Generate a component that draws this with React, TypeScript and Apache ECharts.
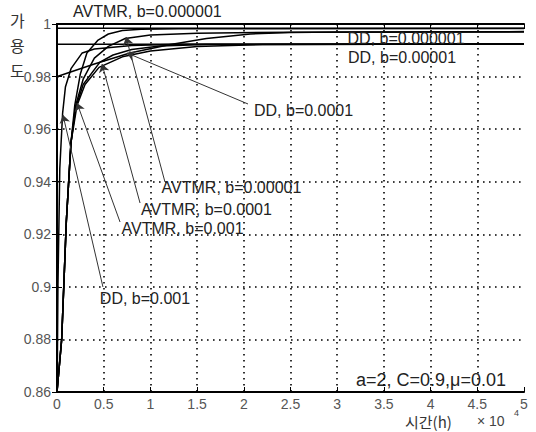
import React, { useEffect, useRef } from "react";
import * as echarts from "echarts";

// x in units of 10^4 h, y = availability
const xTickMin = 0;
const xTickMax = 5;
const xTickStep = 0.5;
const yTickMin = 0.86;
const yTickMax = 1;
const yTickStep = 0.02;

const ddB1e6: number[][] = [[0, 1], [0.003, 0.9984], [5, 0.9984]];
const ddB1e5: number[][] = [[0, 1], [0.003, 0.9923], [5, 0.9924]];
const ddB1e4: number[][] = [
  [0, 1], [0.003, 0.98], [0.4, 0.9848], [0.78, 0.989], [1.2, 0.9921], [1.6, 0.9945],
  [2.07, 0.9962], [2.5, 0.9968], [3, 0.997], [5, 0.9971],
];
const ddB1e3: number[][] = [
  [0, 1], [0.002, 0.862], [0.01, 0.9], [0.03, 0.945], [0.06, 0.966], [0.09, 0.976],
  [0.15, 0.983], [0.27, 0.989], [0.4, 0.9905], [0.8, 0.9918], [1.3, 0.9923], [5, 0.9924],
];
const avtmrB1e6: number[][] = [
  [0, 0.86], [0.05, 0.88], [0.1, 0.925], [0.15, 0.955], [0.19, 0.969], [0.25, 0.981],
  [0.32, 0.989], [0.44, 0.9939], [0.55, 0.9962], [0.7, 0.9975], [0.9, 0.998], [1.3, 0.9982], [5, 0.9983],
];
const avtmrB1e5: number[][] = [
  [0, 0.86], [0.05, 0.88], [0.1, 0.925], [0.15, 0.955], [0.2, 0.969], [0.28, 0.979],
  [0.4, 0.987], [0.55, 0.9915], [0.73, 0.9945], [1, 0.9958], [1.5, 0.9965], [2.5, 0.9969], [5, 0.997],
];
const avtmrB1e4: number[][] = [
  [0, 0.86], [0.05, 0.88], [0.1, 0.925], [0.15, 0.955], [0.2, 0.968], [0.28, 0.977],
  [0.46, 0.9855], [0.6, 0.9882], [0.8, 0.9903], [1.1, 0.9916], [1.6, 0.9922], [5, 0.9924],
];
const avtmrB1e3: number[][] = [
  [0, 0.86], [0.05, 0.88], [0.1, 0.925], [0.15, 0.955], [0.214, 0.969], [0.3, 0.977],
  [0.45, 0.9835], [0.7, 0.9875], [1, 0.9897], [1.5, 0.9914], [2.2, 0.9922], [5, 0.9924],
];

// annotation labels: text, label centre (t, v), leader start (t, v), arrow tip (t, v)
const annotations = [
  { text: "DD, b=0.000001", lt: 3.737, lv: 0.99467, leader: null as null | number[][] },
  { text: "DD, b=0.00001", lt: 3.694, lv: 0.98707, leader: null as null | number[][] },
  { text: "DD, b=0.0001", lt: 2.64, lv: 0.96728, leader: [[2.045, 0.96957], [0.749, 0.98897]] },
  { text: "AVTMR, b=0.00001", lt: 1.868, lv: 0.93761, leader: [[1.156, 0.93989], [0.739, 0.99505]] },
  { text: "AVTMR, b=0.0001", lt: 1.6, lv: 0.92924, leader: [[0.889, 0.9319], [0.482, 0.98478]] },
  { text: "AVTMR, b=0.001", lt: 1.344, lv: 0.92239, leader: [[0.675, 0.92467], [0.214, 0.96995]] },
  { text: "DD, b=0.001", lt: 0.942, lv: 0.89576, leader: [[0.492, 0.89995], [0.064, 0.96538]] },
];

const seriesList = [
  { name: "DD, b=0.000001", data: ddB1e6 },
  { name: "DD, b=0.00001", data: ddB1e5 },
  { name: "DD, b=0.0001", data: ddB1e4 },
  { name: "DD, b=0.001", data: ddB1e3 },
  { name: "AVTMR, b=0.000001", data: avtmrB1e6 },
  { name: "AVTMR, b=0.00001", data: avtmrB1e5 },
  { name: "AVTMR, b=0.0001", data: avtmrB1e4 },
  { name: "AVTMR, b=0.001", data: avtmrB1e3 },
];

const topLabel = "AVTMR, b=0.000001";
const paramText = "a=2, C=0.9,μ=0.01";
const yTitle = ["가", "용", "도"];
const xTitle = "시간(h)";

const LATIN = "'Liberation Sans', Arial, Helvetica, sans-serif";
const CJK = "'Noto Sans CJK KR', 'Noto Sans', sans-serif";

export default function App() {
  const ref = useRef<HTMLDivElement>(null);
  useEffect(() => {
    if (!ref.current) return;
    const chart = echarts.init(ref.current, undefined, { renderer: "svg" });
    const axisLine = { show: true, lineStyle: { color: "#000", width: 2 } };
    const tickIn = { show: true, inside: true, length: 5, lineStyle: { color: "#000", width: 1 } };
    const dotted = {
      show: true,
      showMinLine: false,
      showMaxLine: false,
      lineStyle: { color: "#000", type: [1.6, 4.4], width: 1.6, opacity: 1 },
    };

    const series: any[] = seriesList.map((s) => ({
      name: s.name,
      type: "line",
      data: s.data,
      showSymbol: false,
      symbol: "none",
      lineStyle: { color: "#000", width: 1.5 },
      silent: true,
      z: 3,
    }));

    series[0].markLine = {
      silent: true,
      symbol: ["none", "arrow"],
      symbolSize: 8,
      label: { show: false },
      lineStyle: { color: "#333", width: 1, type: "solid" },
      data: annotations
        .filter((a) => a.leader)
        .map((a) => [{ coord: a.leader![0] }, { coord: a.leader![1] }]),
    };
    series[0].markPoint = {
      silent: true,
      symbol: "rect",
      symbolSize: 1,
      itemStyle: { color: "rgba(0,0,0,0)" },
      label: {
        show: true,
        position: "inside",
        formatter: "{b}",
        color: "#222",
        fontSize: 16,
        fontFamily: LATIN,
      },
      data: annotations.map((a) => ({ name: a.text, coord: [a.lt, a.lv] })),
    };

    chart.setOption({
      animation: false,
      backgroundColor: "#fff",
      grid: { left: 57, right: 12, top: 24, bottom: 40, show: false },
      xAxis: [
        {
          type: "value",
          min: xTickMin,
          max: xTickMax,
          interval: xTickStep,
          axisLine,
          axisTick: tickIn,
          splitLine: dotted,
          axisLabel: {
            color: "#555",
            fontSize: 14,
            fontFamily: LATIN,
            margin: 5,
            formatter: (v: number) => String(+v.toFixed(1)),
          },
        },
        {
          type: "value",
          position: "top",
          min: xTickMin,
          max: xTickMax,
          interval: xTickStep,
          axisLine,
          axisTick: tickIn,
          splitLine: { show: false },
          axisLabel: { show: false },
        },
      ],
      yAxis: [
        {
          type: "value",
          min: yTickMin,
          max: yTickMax,
          interval: yTickStep,
          axisLine,
          axisTick: tickIn,
          splitLine: dotted,
          axisLabel: {
            color: "#555",
            fontSize: 14,
            fontFamily: LATIN,
            margin: 6,
            formatter: (v: number) => String(+v.toFixed(2)),
          },
        },
        {
          type: "value",
          position: "right",
          min: yTickMin,
          max: yTickMax,
          interval: yTickStep,
          axisLine,
          axisTick: tickIn,
          splitLine: { show: false },
          axisLabel: { show: false },
        },
      ],
      series,
      graphic: [
        {
          type: "text",
          left: 73,
          top: 3,
          style: { text: topLabel, fill: "#222", font: `16px ${LATIN}` },
        },
        ...yTitle.map((ch, i) => ({
          type: "text",
          left: 10,
          top: 12 + i * 25,
          style: { text: ch, fill: "#333", font: `16px ${CJK}` },
        })),
        {
          type: "text",
          right: 30,
          top: 371,
          style: { text: paramText, fill: "#222", font: `18px ${LATIN}` },
        },
        {
          type: "text",
          left: 405,
          top: 414,
          style: { text: xTitle, fill: "#333", font: `15px ${CJK}` },
        },
        {
          type: "text",
          left: 477,
          top: 414,
          style: { text: "× 10", fill: "#444", font: `14px ${LATIN}` },
        },
        {
          type: "text",
          left: 514,
          top: 408,
          style: { text: "4", fill: "#444", font: `9px ${LATIN}` },
        },
      ],
    });
    return () => chart.dispose();
  }, []);
  return (
    <div
      ref={ref}
      style={{ position: "fixed", left: 0, top: 0, width: 536, height: 432, background: "#fff" }}
    />
  );
}
